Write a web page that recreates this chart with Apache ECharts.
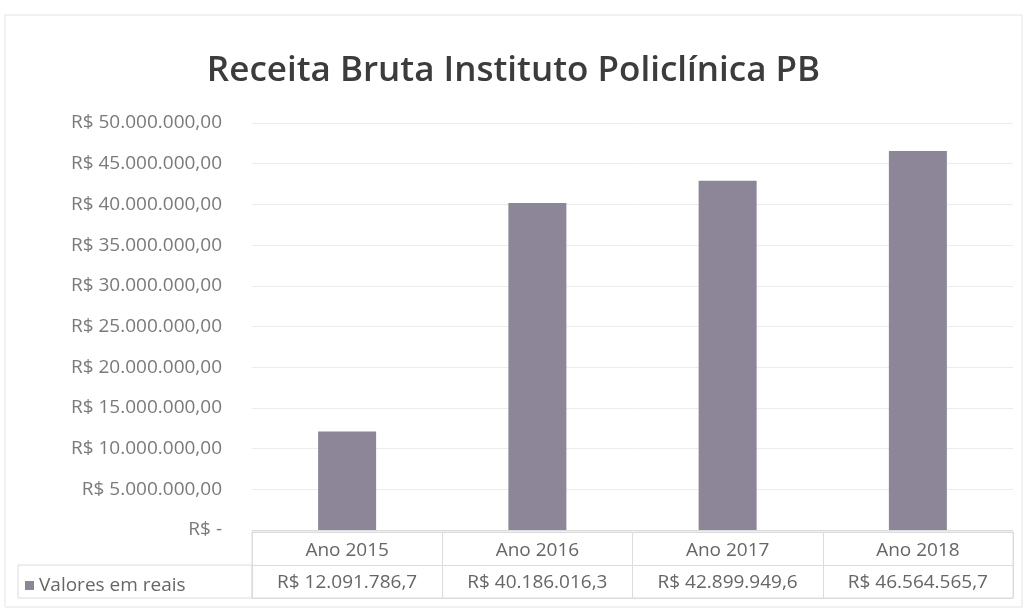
<!DOCTYPE html>
<html>
<head>
<meta charset="utf-8">
<script src="https://cdn.jsdelivr.net/npm/echarts@6/dist/echarts.min.js"></script>
<style>
  html, body { margin: 0; padding: 0; background: #fff; }
  #chart { width: 1027px; height: 614px; }
</style>
</head>
<body>
<div id="chart"></div>
<script>
// dados do gráfico
const categories = ['Ano 2015', 'Ano 2016', 'Ano 2017', 'Ano 2018']
const seriesName = 'Valores em reais'
const values = [12091786.7, 40186016.3, 42899949.6, 46564565.7]
const yTickLabels = ['R$ -', 'R$ 5.000.000,00', 'R$ 10.000.000,00', 'R$ 15.000.000,00',
  'R$ 20.000.000,00', 'R$ 25.000.000,00', 'R$ 30.000.000,00', 'R$ 35.000.000,00',
  'R$ 40.000.000,00', 'R$ 45.000.000,00', 'R$ 50.000.000,00']

const FONT = 'Open Sans'

// formata número no padrão brasileiro, ex: 12.091.786,7
function brl(v, dec) {
  const parts = v.toFixed(dec).split('.')
  const intPart = parts[0].replace(/\B(?=(\d{3})+(?!\d))/g, '.')
  return 'R$ ' + intPart + (dec > 0 ? ',' + parts[1] : '')
}

const chart = echarts.init(document.getElementById('chart'))
const option = {
  backgroundColor: '#fff',
  animation: false,
  title: {
    text: 'Receita Bruta Instituto Policlínica PB',
    left: 'center',
    top: 49,
    textStyle: { fontFamily: FONT, fontSize: 35, fontWeight: 600, color: '#3c3c3c' }
  },
  legend: {
    data: [seriesName],
    left: 20,
    top: 571,
    icon: 'rect',
    itemWidth: 9,
    itemHeight: 9,
    itemGap: 5,
    textStyle: { fontFamily: FONT, fontSize: 19, color: '#666' }
  },
  grid: [
    { left: 252, right: 14, top: 123, bottom: 84 },
    // grade da tabela de dados
    { left: 252, right: 14, top: 532, height: 66, show: true, borderColor: '#dcdcdc', borderWidth: 1 }
  ],
  xAxis: [
    {
      type: 'category',
      data: categories,
      axisLine: { lineStyle: { color: '#dcdcdc' } },
      axisTick: { show: false },
      axisLabel: {
        margin: 5,
        formatter: (val, idx) => '{a|' + val + '}\n{b|' + brl(values[idx], 1) + '}',
        rich: {
          a: { fontFamily: FONT, fontSize: 19, color: '#666', lineHeight: 32 },
          b: { fontFamily: FONT, fontSize: 19, color: '#666', lineHeight: 32 }
        }
      }
    },
    {
      type: 'category',
      gridIndex: 1,
      data: categories,
      axisLine: { show: false },
      axisTick: { show: false },
      axisLabel: { show: false },
      splitLine: { show: true, lineStyle: { color: '#dcdcdc' } }
    }
  ],
  yAxis: [
    {
      type: 'value',
      min: 0,
      max: 50000000,
      interval: 5000000,
      axisLine: { show: false },
      axisTick: { show: false },
      splitLine: { lineStyle: { color: '#ececec' } },
      axisLabel: {
        margin: 30,
        fontFamily: FONT,
        fontSize: 19,
        color: '#7a7a7a',
        formatter: (v) => yTickLabels[Math.round(v / 5000000)]
      }
    },
    {
      type: 'category',
      gridIndex: 1,
      data: ['cat', 'val'],
      axisLine: { show: false },
      axisTick: { show: false },
      axisLabel: { show: false },
      splitLine: { show: true, lineStyle: { color: '#dcdcdc' } }
    }
  ],
  graphic: [
    // contorno da célula da legenda
    { type: 'rect', shape: { x: 18, y: 565, width: 234, height: 33 }, style: { fill: 'none', stroke: '#dcdcdc' } },
    // borda externa do gráfico
    { type: 'rect', shape: { x: 5, y: 15, width: 1017, height: 592 }, style: { fill: 'none', stroke: '#e4e4e4' } }
  ],
  series: [
    {
      name: seriesName,
      type: 'bar',
      data: values,
      barWidth: 58,
      itemStyle: { color: '#8c8698' }
    }
  ]
}
chart.setOption(option)
</script>
</body>
</html>
